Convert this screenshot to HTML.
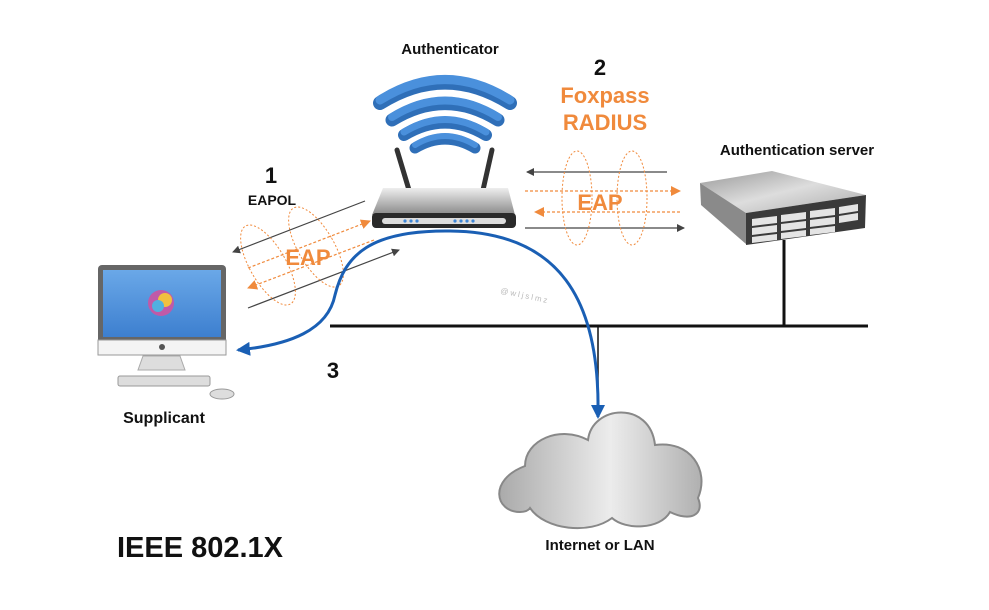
<!DOCTYPE html>
<html><head><meta charset="utf-8"><style>html,body{margin:0;padding:0;background:#fff}svg{display:block}</style></head><body>
<svg width="989" height="610" viewBox="0 0 989 610" xmlns="http://www.w3.org/2000/svg" font-family="Liberation Sans, sans-serif" font-weight="bold">
<defs>
<marker id="ga" markerWidth="8" markerHeight="8" refX="7" refY="4" orient="auto" markerUnits="userSpaceOnUse"><path d="M0,0 L8,4 L0,8 Z" fill="#444"/></marker>
<marker id="oa" markerWidth="10" markerHeight="10" refX="9" refY="5" orient="auto" markerUnits="userSpaceOnUse"><path d="M0,0 L10,5 L0,10 Z" fill="#f08a3c"/></marker>
<marker id="ba" markerWidth="14" markerHeight="14" refX="12" refY="7" orient="auto" markerUnits="userSpaceOnUse"><path d="M0,0 L14,7 L0,14 Z" fill="#1a5fb4"/></marker>
<linearGradient id="rg" x1="0" y1="0" x2="0" y2="1"><stop offset="0" stop-color="#eee"/><stop offset="1" stop-color="#888"/></linearGradient>
<linearGradient id="sg" x1="0" y1="0" x2="0" y2="1"><stop offset="0" stop-color="#6aa8e8"/><stop offset="1" stop-color="#3d7fcf"/></linearGradient>
<linearGradient id="cg" x1="0" y1="0" x2="1" y2="0"><stop offset="0" stop-color="#aaa"/><stop offset="0.55" stop-color="#ececec"/><stop offset="1" stop-color="#b0b0b0"/></linearGradient>
<linearGradient id="tg" x1="0" y1="0" x2="1" y2="1"><stop offset="0" stop-color="#999"/><stop offset="0.5" stop-color="#ddd"/><stop offset="1" stop-color="#aaa"/></linearGradient>
</defs>
<text x="450" y="54" font-size="15" text-anchor="middle" fill="#111">Authenticator</text>
<g fill="none" stroke-linecap="round">
<path d="M380,103 Q445,62 510,103" stroke="#2f6fb8" stroke-width="14"/>
<path d="M380,100 Q445,59 510,100" stroke="#4a90dc" stroke-width="9"/>
<path d="M392,120 Q445,87 498,120" stroke="#2f6fb8" stroke-width="13"/>
<path d="M392,117 Q445,84 498,117" stroke="#4a90dc" stroke-width="8"/>
<path d="M404,135 Q445,110 486,135" stroke="#2f6fb8" stroke-width="12"/>
<path d="M404,132 Q445,107 486,132" stroke="#4a90dc" stroke-width="7"/>
<path d="M415,148 Q445,130 475,148" stroke="#2f6fb8" stroke-width="11"/>
<path d="M415,145 Q445,127 475,145" stroke="#4a90dc" stroke-width="6"/>
</g>
<line x1="397" y1="150" x2="409" y2="190" stroke="#333" stroke-width="5" stroke-linecap="round"/>
<line x1="492" y1="150" x2="483" y2="190" stroke="#333" stroke-width="5" stroke-linecap="round"/>
<path d="M383,188 L508,188 L515,215 L372,215 Z" fill="url(#rg)"/>
<rect x="372" y="213" width="144" height="15" rx="4" fill="#2a2a2a"/>
<rect x="382" y="218" width="124" height="6" rx="3" fill="#ddd"/>
<g fill="#3f86d6"><circle cx="405" cy="221" r="1.6"/><circle cx="411" cy="221" r="1.6"/><circle cx="417" cy="221" r="1.6"/><circle cx="455" cy="221" r="1.6"/><circle cx="461" cy="221" r="1.6"/><circle cx="467" cy="221" r="1.6"/><circle cx="473" cy="221" r="1.6"/></g>
<text x="600" y="75" font-size="22" text-anchor="middle" fill="#111">2</text>
<text x="605" y="103" font-size="22" text-anchor="middle" fill="#f08a3c">Foxpass</text>
<text x="605" y="130" font-size="22" text-anchor="middle" fill="#f08a3c">RADIUS</text>
<line x1="667" y1="172" x2="527" y2="172" stroke="#444" stroke-width="1.2" marker-end="url(#ga)"/>
<line x1="525" y1="191" x2="680" y2="191" stroke="#f08a3c" stroke-width="1.2" stroke-dasharray="3,2" marker-end="url(#oa)"/>
<line x1="680" y1="212" x2="535" y2="212" stroke="#f08a3c" stroke-width="1.2" stroke-dasharray="3,2" marker-end="url(#oa)"/>
<line x1="525" y1="228" x2="684" y2="228" stroke="#444" stroke-width="1.2" marker-end="url(#ga)"/>
<g fill="none" stroke="#f08a3c" stroke-width="1" stroke-dasharray="2,2"><ellipse cx="577" cy="198" rx="15" ry="47"/><ellipse cx="632" cy="198" rx="15" ry="47"/></g>
<text x="600" y="210" font-size="22" text-anchor="middle" fill="#f08a3c">EAP</text>
<text x="271" y="183" font-size="22" text-anchor="middle" fill="#111">1</text>
<text x="272" y="205" font-size="14" text-anchor="middle" fill="#111">EAPOL</text>
<line x1="365" y1="201" x2="233" y2="252" stroke="#444" stroke-width="1.2" marker-end="url(#ga)"/>
<line x1="248" y1="268" x2="370" y2="221" stroke="#f08a3c" stroke-width="1.2" stroke-dasharray="3,2" marker-end="url(#oa)"/>
<line x1="374" y1="240" x2="248" y2="288" stroke="#f08a3c" stroke-width="1.2" stroke-dasharray="3,2" marker-end="url(#oa)"/>
<line x1="248" y1="308" x2="399" y2="250" stroke="#444" stroke-width="1.2" marker-end="url(#ga)"/>
<g fill="none" stroke="#f08a3c" stroke-width="1" stroke-dasharray="2,2"><ellipse cx="268" cy="265" rx="18" ry="45" transform="rotate(-30 268 265)"/><ellipse cx="316" cy="247" rx="18" ry="45" transform="rotate(-30 316 247)"/></g>
<text x="308" y="265" font-size="22" text-anchor="middle" fill="#f08a3c">EAP</text>
<text x="500" y="293" font-size="8" fill="#bbb" font-weight="normal" transform="rotate(12 500 293)" letter-spacing="2">@wljslmz</text>
<path d="M700,183 L772,171 L866,195 L746,213 Z" fill="url(#tg)"/>
<path d="M700,183 L746,213 L746,244 L701,205 Z" fill="#8a8a8a"/>
<path d="M746,213 L866,195 L865,228 L746,245 Z" fill="#3a3a3a"/>
<g fill="#e4e4e4">
<path d="M752,219 L777,216 L777,223 L752,226 Z"/><path d="M781,215 L806,212 L806,219 L781,222 Z"/><path d="M810,211 L835,208 L835,215 L810,218 Z"/><path d="M839,207 L858,204 L858,211 L839,214 Z"/>
<path d="M752,228 L777,225 L777,232 L752,235 Z"/><path d="M781,224 L806,221 L806,228 L781,231 Z"/><path d="M810,220 L835,217 L835,224 L810,227 Z"/><path d="M839,216 L858,213 L858,220 L839,223 Z"/>
<path d="M752,237 L777,234 L777,240 L752,243 Z"/><path d="M781,233 L806,230 L806,236 L781,239 Z"/><path d="M810,229 L835,226 L835,232 L810,235 Z"/>
</g>
<text x="797" y="155" font-size="15" text-anchor="middle" fill="#111">Authentication server</text>
<line x1="784" y1="240" x2="784" y2="326" stroke="#111" stroke-width="3"/>
<line x1="330" y1="326" x2="868" y2="326" stroke="#111" stroke-width="3"/>
<line x1="598" y1="326" x2="598" y2="408" stroke="#111" stroke-width="1.5"/>
<path d="M520,512 C495,512 488,480 525,466 C525,440 560,425 588,440 C592,405 650,400 655,445 C690,440 710,470 698,498 C705,515 690,522 670,512 C660,530 625,530 612,518 C590,535 545,530 530,508 C528,511 524,512 520,512 Z" fill="url(#cg)" stroke="#888" stroke-width="2"/>
<text x="600" y="550" font-size="15" text-anchor="middle" fill="#111">Internet or LAN</text>
<path d="M598,415 C600,300 560,232 450,231 C370,230 345,255 335,295 C328,330 290,345 238,350" fill="none" stroke="#1a5fb4" stroke-width="3" marker-end="url(#ba)"/>
<line x1="598" y1="400" x2="598" y2="417" stroke="#1a5fb4" stroke-width="3" marker-end="url(#ba)"/>
<text x="333" y="378" font-size="22" text-anchor="middle" fill="#111">3</text>
<rect x="98" y="265" width="128" height="90" rx="4" fill="#666"/>
<rect x="103" y="270" width="118" height="67" fill="url(#sg)"/>
<rect x="98" y="340" width="128" height="15" fill="#f4f4f4" stroke="#999"/>
<circle cx="162" cy="347" r="3" fill="#555"/>
<circle cx="161" cy="303" r="13" fill="#c05aa8"/>
<circle cx="165" cy="300" r="7" fill="#f0c040"/>
<circle cx="158" cy="306" r="6" fill="#50b0e0"/>
<path d="M143,356 L180,356 L185,370 L138,370 Z" fill="#ddd" stroke="#aaa"/>
<rect x="118" y="376" width="92" height="10" rx="2" fill="#ddd" stroke="#999"/>
<ellipse cx="222" cy="394" rx="12" ry="5" fill="#ddd" stroke="#999"/>
<text x="164" y="423" font-size="16" text-anchor="middle" fill="#111">Supplicant</text>
<text x="200" y="557" font-size="29" text-anchor="middle" fill="#111">IEEE 802.1X</text>
</svg>
</body></html>
